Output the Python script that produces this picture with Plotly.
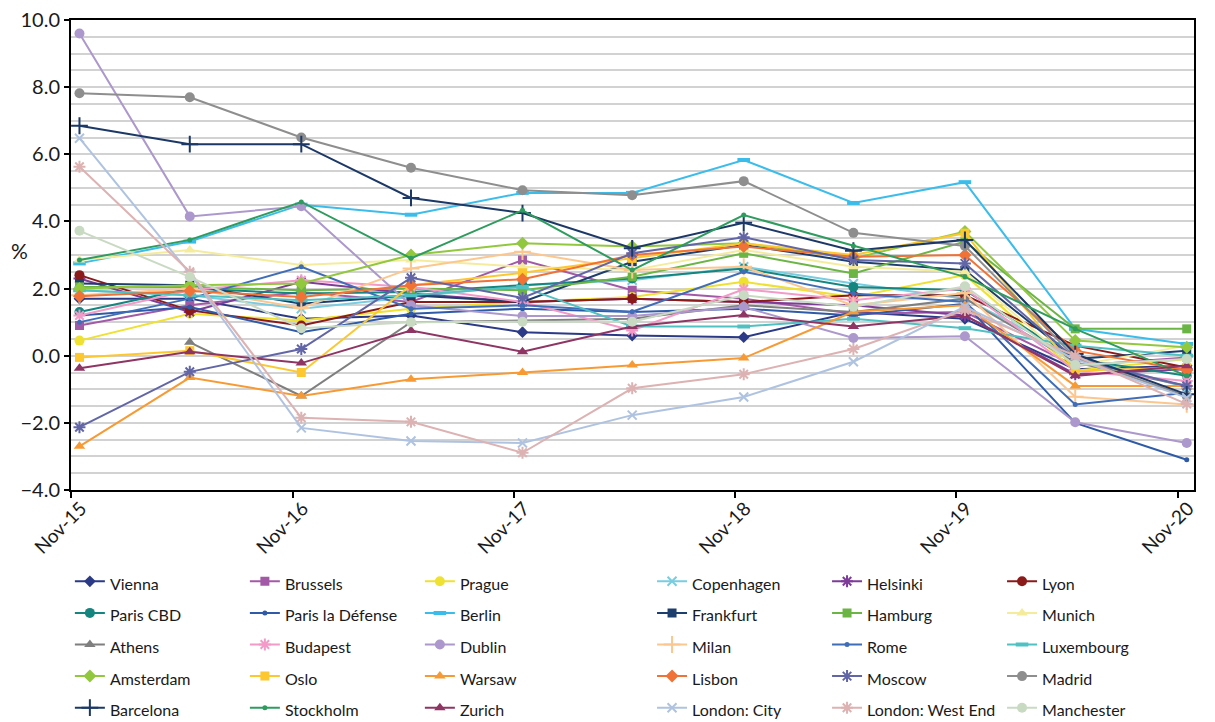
import plotly.graph_objects as go

# ---- data -------------------------------------------------------------
periods = ["2015-11-15", "2016-05-15", "2016-11-15", "2017-05-15", "2017-11-15",
           "2018-05-15", "2018-11-15", "2019-05-15", "2019-11-15", "2020-05-15",
           "2020-11-15"]
tick_dates = ["2015-11-01", "2016-11-01", "2017-11-01", "2018-11-01", "2019-11-01", "2020-11-01"]
tick_labels = ["Nov-15", "Nov-16", "Nov-17", "Nov-18", "Nov-19", "Nov-20"]

vienna = [1.7, 1.7, 1.1, 1.2, 0.7, 0.6, 0.55, 1.3, 1.1, -0.4, -0.3]
brussels = [0.9, 1.5, 1.9, 1.6, 2.85, 1.95, 1.7, 1.25, 1.3, -0.3, -0.05]
prague = [0.45, 1.25, 1.05, 1.4, 1.6, 1.75, 2.2, 1.75, 2.4, -0.45, -0.1]
copenhagen = [1.95, 1.8, 1.4, 1.75, 2.1, 2.25, 2.65, 2.15, 1.7, 0.0, -0.95]
helsinki = [2.3, 1.3, 2.2, 1.85, 1.6, 1.7, 1.6, 1.5, 1.2, -0.55, -0.4]
lyon = [2.4, 1.35, 0.9, 1.6, 1.6, 1.7, 1.6, 1.8, 1.8, 0.3, -0.35]
paris_cbd = [1.3, 2.0, 1.85, 1.9, 2.1, 2.3, 2.6, 2.05, 1.95, -0.1, -0.6]
paris_la_defense = [1.2, 1.45, 0.7, 1.25, 1.4, 1.3, 1.4, 1.2, 1.55, -2.0, -3.1]
berlin = [2.75, 3.4, 4.5, 4.2, 4.85, 4.85, 5.83, 4.55, 5.17, 0.8, 0.35]
frankfurt = [2.15, 2.1, 1.55, 1.8, 1.6, 2.8, 3.3, 2.8, 2.55, -0.1, 0.15]
hamburg = [2.05, 2.05, 1.95, 2.0, 1.95, 2.35, 3.05, 2.45, 3.4, 0.8, 0.8]
munich = [2.85, 3.15, 2.7, 2.85, 2.65, 2.55, 3.15, 2.65, 2.5, -0.3, 0.3]
athens = [None, 0.4, -1.2, 1.0, 1.05, 1.1, 1.5, 1.3, 1.7, -0.2, -0.9]
budapest = [1.2, 1.95, 2.25, 2.05, 1.6, 0.75, 1.98, 1.65, 2.0, -0.45, -0.75]
dublin = [9.6, 4.15, 4.45, 1.5, 1.18, 1.18, 1.45, 0.53, 0.58, -1.98, -2.6]
milan = [1.8, 2.0, 1.42, 2.6, 3.1, 2.55, 2.65, 1.5, 1.87, -1.22, -1.45]
rome = [1.0, 1.7, 2.65, 1.4, 1.5, 1.31, 2.5, 1.85, 1.6, -1.45, -1.1]
luxembourg = [1.95, 1.8, 1.65, 1.8, 2.05, 0.87, 0.87, 1.1, 0.82, 0.3, 0.0]
amsterdam = [2.0, 2.1, 2.15, 3.0, 3.35, 3.25, 3.35, 2.9, 3.7, 0.45, 0.25]
oslo = [-0.05, 0.15, -0.5, 2.1, 2.47, 2.9, 3.35, 3.0, 3.65, -0.45, -0.35]
warsaw = [-2.7, -0.65, -1.2, -0.7, -0.5, -0.28, -0.07, 1.31, 1.5, -0.9, -0.9]
lisbon = [1.77, 1.93, 1.75, 2.1, 2.28, 3.0, 3.25, 2.95, 3.0, 0.15, -0.43]
moscow = [-2.13, -0.48, 0.2, 2.32, 1.72, 3.05, 3.53, 2.85, 2.75, -0.1, -0.9]
madrid = [7.82, 7.7, 6.5, 5.6, 4.93, 4.78, 5.2, 3.66, 3.27, -0.05, -1.2]
barcelona = [6.85, 6.3, 6.3, 4.7, 4.25, 3.2, 3.96, 3.13, 3.45, 0.05, -1.15]
stockholm = [2.85, 3.45, 4.58, 2.9, 4.33, 2.55, 4.19, 3.27, 2.35, 0.8, -0.6]
zurich = [-0.37, 0.12, -0.22, 0.75, 0.12, 0.87, 1.21, 0.87, 1.2, -0.6, -0.3]
london_city = [6.48, 2.45, -2.15, -2.54, -2.6, -1.77, -1.23, -0.18, 1.46, -0.1, -1.25]
london_west_end = [5.63, 2.5, -1.85, -1.97, -2.89, -0.97, -0.55, 0.2, 1.36, 0.0, -1.44]
manchester = [3.72, 2.35, 0.82, 1.0, 1.01, 1.01, 1.8, 1.46, 2.07, -0.28, -0.1]

# ---- styling ----------------------------------------------------------
series = [
    ("Vienna", vienna, "#2B3A87", "diamond", 9),
    ("Brussels", brussels, "#A35AA6", "square", 9),
    ("Prague", prague, "#EFE132", "circle", 10),
    ("Copenhagen", copenhagen, "#79CDE0", "x-thin-open", 9),
    ("Helsinki", helsinki, "#7D3C98", "asterisk-open", 10),
    ("Lyon", lyon, "#8B1A1A", "circle", 10),
    ("Paris CBD", paris_cbd, "#15857F", "circle", 10),
    ("Paris la Défense", paris_la_defense, "#2E5AA8", "circle", 5),
    ("Berlin", berlin, "#3BBDEB", "line-ew-open", 9),
    ("Frankfurt", frankfurt, "#1C3F6E", "square", 9),
    ("Hamburg", hamburg, "#6BB545", "square", 9),
    ("Munich", munich, "#F4EC9C", "triangle-up", 10),
    ("Athens", athens, "#7F7F7F", "triangle-up", 10),
    ("Budapest", budapest, "#F49AC8", "asterisk-open", 10),
    ("Dublin", dublin, "#AC98CC", "circle", 10),
    ("Milan", milan, "#FCC78F", "cross-thin-open", 12),
    ("Rome", rome, "#3F6DB8", "circle", 5),
    ("Luxembourg", luxembourg, "#4FC1C2", "line-ew-open", 9),
    ("Amsterdam", amsterdam, "#92C83E", "diamond", 10),
    ("Oslo", oslo, "#FDC82F", "square", 9),
    ("Warsaw", warsaw, "#F89A33", "triangle-up", 10),
    ("Lisbon", lisbon, "#F07236", "diamond", 10),
    ("Moscow", moscow, "#6266A6", "asterisk-open", 10),
    ("Madrid", madrid, "#8E8E8E", "circle", 10),
    ("Barcelona", barcelona, "#1B3866", "cross-thin-open", 12),
    ("Stockholm", stockholm, "#2E9C5E", "circle", 5),
    ("Zurich", zurich, "#8E3563", "triangle-up", 10),
    ("London: City", london_city, "#AFC3E0", "x-thin-open", 9),
    ("London: West End", london_west_end, "#DDB2B2", "asterisk-open", 10),
    ("Manchester", manchester, "#C9DAC3", "circle", 10),
]

FONT = "Lato"
TXT = "#1a1a1a"
NCOL = 6

fig = go.Figure()
for i, (name, vals, color, symbol, size) in enumerate(series):
    col = i % NCOL
    is_open = symbol.endswith("-open")
    lw = 4 if symbol.startswith("line") else (2 if is_open else 0)
    fig.add_trace(go.Scatter(
        x=periods, y=vals, mode="lines+markers",
        name=f'<span style="font-size:16px">{name}</span>',
        legend="legend" if col < 3 else "legend2",
        legendgroup=f"col{col}",
        line=dict(color=color, width=2),
        marker=dict(symbol=symbol, size=size, color=color,
                    line=dict(color=color, width=lw)),
        connectgaps=False,
    ))

legend_common = dict(orientation="h", xanchor="left", y=-0.15, yanchor="top",
                     entrywidth=130, font=dict(size=22, family=FONT, color=TXT),
                     bgcolor="rgba(0,0,0,0)", traceorder="grouped", tracegroupgap=0)

fig.update_layout(
    width=1215, height=722,
    margin=dict(l=71, r=21, t=20, b=232, autoexpand=False),
    paper_bgcolor="white", plot_bgcolor="white",
    font=dict(family=FONT, color=TXT),
    showlegend=True,
    legend=dict(x=-0.001, **legend_common),
    legend2=dict(x=0.5174, **legend_common),
    xaxis=dict(type="date", range=["2015-11-01", "2020-11-27"],
               tickvals=tick_dates, ticktext=tick_labels, tickangle=-45,
               tickfont=dict(size=19, family=FONT, color=TXT),
               ticks="outside", ticklen=6, tickwidth=1.5, tickcolor="black",
               ticklabelstandoff=-8, ticklabelshift=10,
               showline=True, linecolor="black", linewidth=2, mirror=True,
               showgrid=False, zeroline=False),
    yaxis=dict(range=[-4, 10], dtick=2, tick0=0, tickformat=".1f",
               tickfont=dict(size=20, family=FONT, color=TXT),
               ticks="outside", ticklen=5, tickwidth=1.5, tickcolor="black",
               showline=True, linecolor="black", linewidth=2, mirror=True,
               showgrid=True, gridcolor="#D2D2D2", gridwidth=2, zeroline=False,
               minor=dict(dtick=0.5, showgrid=True, gridcolor="#D2D2D2", gridwidth=2)),
    annotations=[dict(text="%", xref="paper", yref="paper", x=-0.055, y=0.509,
                      showarrow=False, font=dict(size=21, family=FONT, color=TXT))],
)

fig.write_html("out.html")
